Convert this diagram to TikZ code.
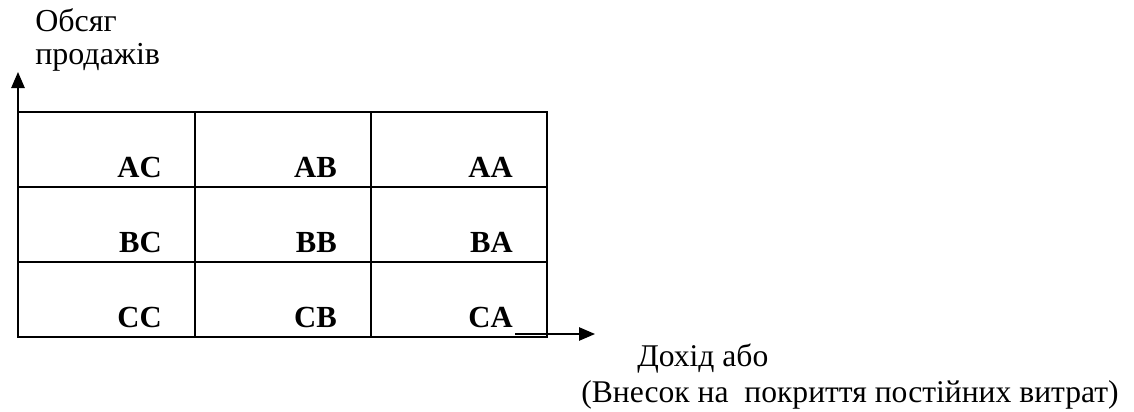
\documentclass[tikz,border=0pt]{standalone}
\usepackage{fontspec}
\setmainfont{Liberation Serif}
\newfontfamily\fa{Liberation Serif}
\usetikzlibrary{arrows.meta}
\begin{document}
\begin{tikzpicture}[x=0.75pt,y=0.75pt,
  gridline/.style={line width=1.5pt},
  axisline/.style={line width=1.2pt,-{Triangle[length=12pt,width=10pt]}},
  cell/.style={font=\fa\fontsize{23pt}{26pt}\selectfont\bfseries, anchor=base east, inner sep=0pt},
  axlabel/.style={font=\fa\fontsize{24pt}{28pt}\selectfont, anchor=base west, inner sep=0pt},
  axlabelb/.style={font=\fa\fontsize{23.7pt}{28pt}\selectfont, anchor=base west, inner sep=0pt}]
\useasboundingbox (0,0) rectangle (1134,-411);
% grid
\draw[gridline] (18,-112) rectangle (547,-337);
\draw[gridline] (195,-112) -- (195,-337);
\draw[gridline] (371,-112) -- (371,-337);
\draw[gridline] (18,-187) -- (547,-187);
\draw[gridline] (18,-262) -- (547,-262);
% labels
\node[cell] (AC) at (162,-177) {AC};
\node[cell] (AB) at (337,-177) {AB};
\node[cell] (AA) at (513,-177) {AA};
\node[cell] (BC) at (162,-252) {BC};
\node[cell] (BB) at (337,-252) {BB};
\node[cell] (BA) at (513,-252) {BA};
\node[cell] (CC) at (162,-327) {CC};
\node[cell] (CB) at (337,-327) {CB};
\node[cell] (CA) at (513,-327) {CA};
% axes
\coordinate (yo) at (18,-112);
\coordinate (yt) at (18,-72);
\draw[axisline] (yo) -- (yt);
\coordinate (xo) at (515,-334);
\coordinate (xt) at (595,-334);
\draw[axisline] (xo) -- (xt);
% axis texts
\node[axlabel] (y1) at (35,-31.5) {Обсяг};
\node[axlabel] (y2) at (35,-64.5) {продажів};
\node[axlabelb] (x1) at (637,-366) {Дохід або};
\node[axlabelb] (x2) at (581,-402) {(Внесок на\ \ покриття постійних витрат)};
\end{tikzpicture}
\end{document}
